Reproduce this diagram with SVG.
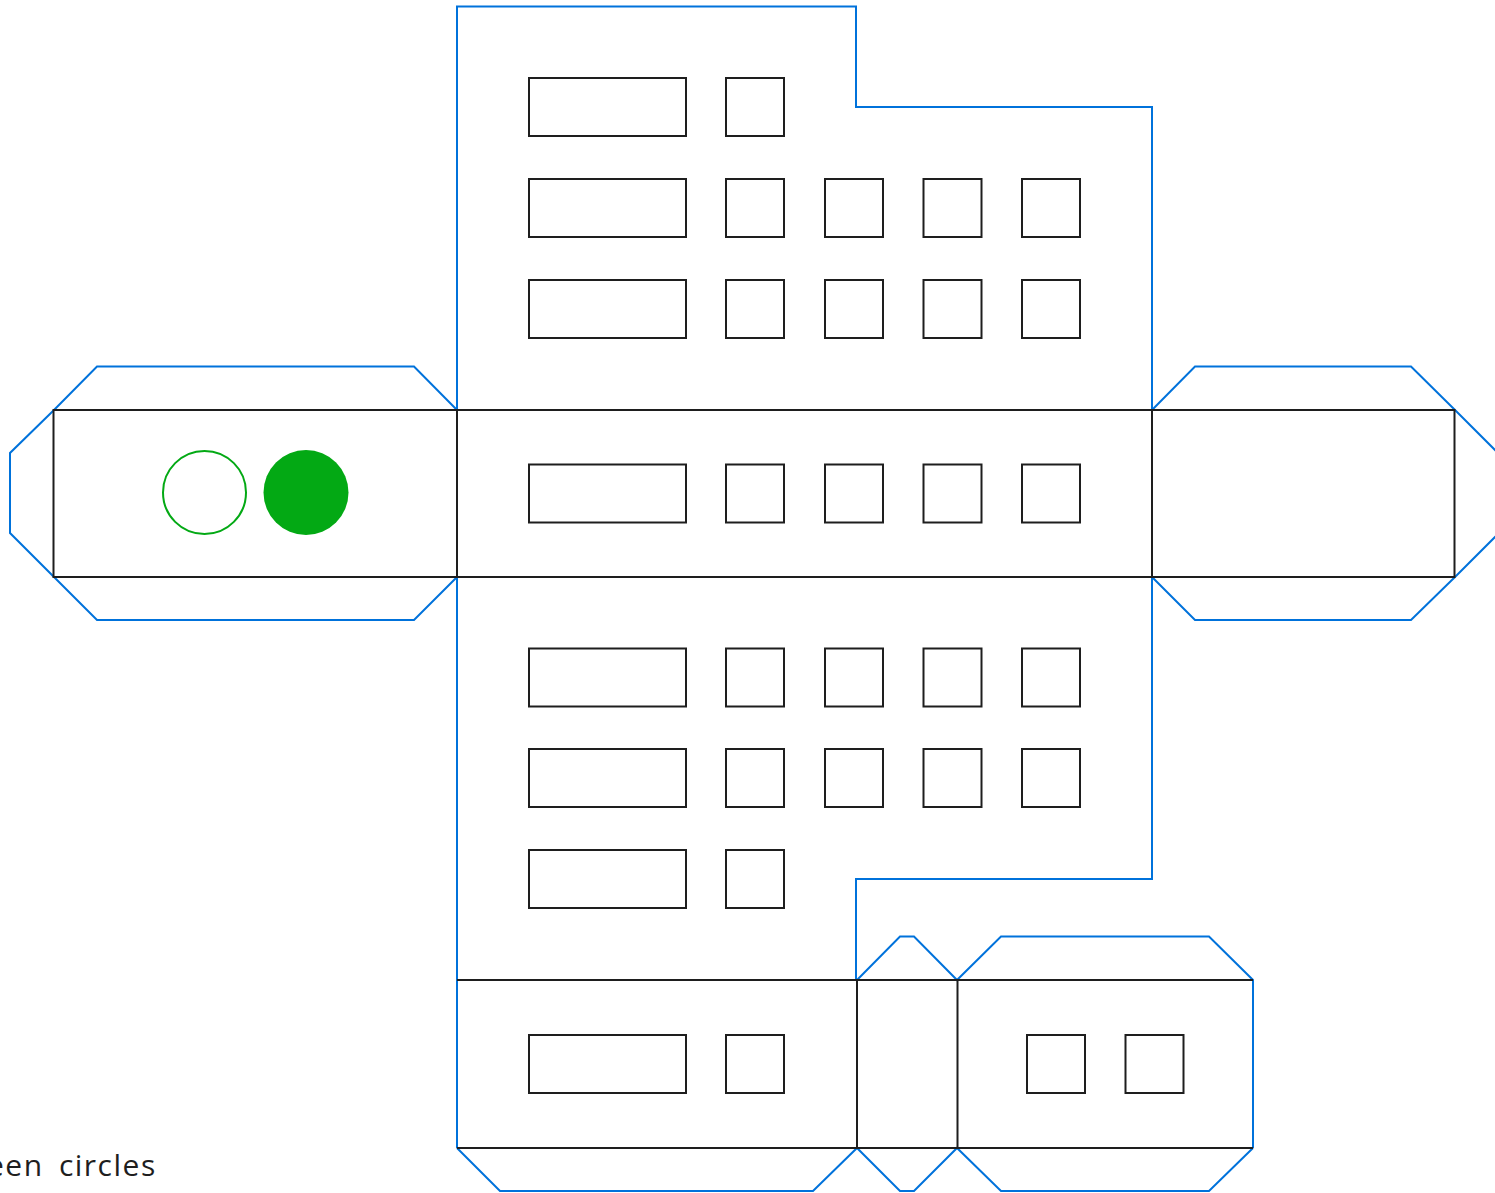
<svg xmlns="http://www.w3.org/2000/svg" width="1495" height="1193" viewBox="0 0 1495 1193">
<defs><style>
.c{fill:none;stroke:#0072db;stroke-width:2;stroke-linejoin:miter}
.k{fill:none;stroke:#1e1e1e;stroke-width:2}
.w{fill:none;stroke:#1e1e1e;stroke-width:2}
.t{font-family:"Open Sans","DejaVu Sans",sans-serif;font-size:30px;fill:#1e1e1e;letter-spacing:1.500px;word-spacing:6px}
</style>
<rect id="wide" class="w" width="157" height="58"/>
<rect id="sq" class="w" width="58" height="58"/>
</defs>
<rect width="1495" height="1193" fill="#fff"/>
<g id="connectors">
<path class="c" d="M457,410V6.500H856V107H1152V410"/>
<path class="c" d="M457,577V1148"/>
<path class="c" d="M1152,577V879H856V980"/>
<path class="c" d="M54,410L97,366.500H414L457,410"/>
<path class="c" d="M54,577L97,620H414L457,577"/>
<path class="c" d="M54,410L10,453V533L54,577"/>
<path class="c" d="M1152,410L1195,366.500H1411L1455,410L1498,453"/>
<path class="c" d="M1152,577L1195,620H1411L1455,577L1498,534"/>
<path class="c" d="M857,980L900,936.500H914L957,980L1001,936.500H1209L1253,980V1148"/>
<path class="c" d="M457,1148L500,1191H813L857,1148L900,1191H914L957,1148L1001,1191H1209L1253,1148"/>
<path class="k" d="M53.500,410H1454.500V577H53.500ZM457,410V577M1152,410V577"/>
<path class="k" d="M457,980H1253M457,1148H1253M857,980V1148M957.500,980V1148"/>
</g>
<g id="row-1"><use href="#wide" x="529" y="78"/><use href="#sq" x="726" y="78"/></g>
<g id="row-2"><use href="#wide" x="529" y="179"/><use href="#sq" x="726" y="179"/><use href="#sq" x="825" y="179"/><use href="#sq" x="923.500" y="179"/><use href="#sq" x="1022" y="179"/></g>
<g id="row-3"><use href="#wide" x="529" y="280"/><use href="#sq" x="726" y="280"/><use href="#sq" x="825" y="280"/><use href="#sq" x="923.500" y="280"/><use href="#sq" x="1022" y="280"/></g>
<g id="row-4"><use href="#wide" x="529" y="464.500"/><use href="#sq" x="726" y="464.500"/><use href="#sq" x="825" y="464.500"/><use href="#sq" x="923.500" y="464.500"/><use href="#sq" x="1022" y="464.500"/></g>
<g id="row-5"><use href="#wide" x="529" y="648.500"/><use href="#sq" x="726" y="648.500"/><use href="#sq" x="825" y="648.500"/><use href="#sq" x="923.500" y="648.500"/><use href="#sq" x="1022" y="648.500"/></g>
<g id="row-6"><use href="#wide" x="529" y="749"/><use href="#sq" x="726" y="749"/><use href="#sq" x="825" y="749"/><use href="#sq" x="923.500" y="749"/><use href="#sq" x="1022" y="749"/></g>
<g id="row-7"><use href="#wide" x="529" y="850"/><use href="#sq" x="726" y="850"/></g>
<g id="row-8"><use href="#wide" x="529" y="1035"/><use href="#sq" x="726" y="1035"/><use href="#sq" x="1027" y="1035"/><use href="#sq" x="1125.500" y="1035"/></g>
<g id="circle-outline"><circle cx="204.500" cy="492.500" r="41.500" fill="none" stroke="#03a914" stroke-width="2"/></g>
<g id="circle-filled"><circle cx="306" cy="492.500" r="42.500" fill="#03a914"/></g>
<g id="label"><text class="t" x="-13" y="1176">een circles</text></g>
</svg>
